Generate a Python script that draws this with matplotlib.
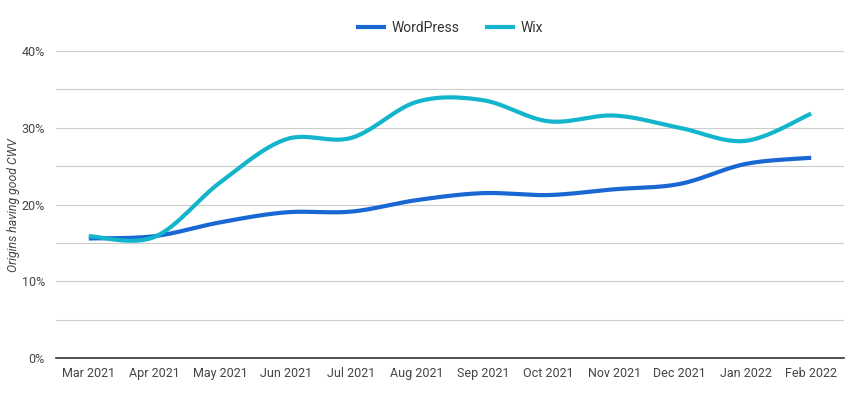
import numpy as np
import matplotlib
matplotlib.use("Agg")
import matplotlib.pyplot as plt
from matplotlib.ticker import FuncFormatter, MultipleLocator

plt.rcParams['font.family'] = ['Roboto', 'DejaVu Sans']

months = ['Mar 2021', 'Apr 2021', 'May 2021', 'Jun 2021', 'Jul 2021', 'Aug 2021',
          'Sep 2021', 'Oct 2021', 'Nov 2021', 'Dec 2021', 'Jan 2022', 'Feb 2022']
wordpress = [15.6, 15.9, 17.7, 19.0, 19.1, 20.6, 21.5, 21.25, 22.0, 22.7, 25.3, 26.1]
wix = [15.9, 15.8, 22.9, 28.5, 28.7, 33.4, 33.6, 30.85, 31.6, 30.0, 28.3, 31.85]

WP_COLOR = '#1967d2'
WIX_COLOR = '#12b5cb'


# cardinal spline through the points, only used for drawing the smooth curve
def smooth(x, y, steps=30, tension=0.5):
    x = np.asarray(x, float)
    y = np.asarray(y, float)
    px = np.concatenate([[x[0]], x, [x[-1]]])
    py = np.concatenate([[y[0]], y, [y[-1]]])
    xs, ys = [], []
    t = np.linspace(0, 1, steps)
    for i in range(1, len(px) - 2):
        mx0 = tension * (px[i + 1] - px[i - 1])
        mx1 = tension * (px[i + 2] - px[i])
        my0 = tension * (py[i + 1] - py[i - 1])
        my1 = tension * (py[i + 2] - py[i])
        h00 = 2 * t**3 - 3 * t**2 + 1
        h10 = t**3 - 2 * t**2 + t
        h01 = -2 * t**3 + 3 * t**2
        h11 = t**3 - t**2
        xs.append(h00 * px[i] + h10 * mx0 + h01 * px[i + 1] + h11 * mx1)
        ys.append(h00 * py[i] + h10 * my0 + h01 * py[i + 1] + h11 * my1)
    return np.concatenate(xs), np.concatenate(ys)


fig = plt.figure(figsize=(8.68, 4.07), dpi=100)
ax = fig.add_axes([0.0645, 0.1196, 0.9079, 0.7551])

idx = np.arange(len(months))
sx, sy = smooth(idx, wordpress)
ax.plot(sx, sy, color=WP_COLOR, lw=3, solid_capstyle='butt', label='WordPress', zorder=3)
sx, sy = smooth(idx, wix)
ax.plot(sx, sy, color=WIX_COLOR, lw=3, solid_capstyle='butt', label='Wix', zorder=4)

ax.set_xlim(-0.5, len(months) - 0.5)
ax.set_ylim(0, 40)
ax.set_xticks(idx)
ax.set_xticklabels(months)
ax.yaxis.set_major_locator(MultipleLocator(10))
ax.yaxis.set_minor_locator(MultipleLocator(5))
ax.yaxis.set_major_formatter(FuncFormatter(lambda v, p: '%d%%' % v))
ax.grid(True, which='both', axis='y', color='#cccccc', lw=0.8)
ax.set_axisbelow(True)
for s in ['top', 'right', 'left']:
    ax.spines[s].set_visible(False)
ax.spines['bottom'].set_color('#333333')
ax.spines['bottom'].set_linewidth(1.2)
ax.spines['bottom'].set_zorder(5)
ax.tick_params(axis='both', which='both', length=0, labelsize=9, colors='#444444')
ax.tick_params(axis='x', pad=6)
ax.tick_params(axis='y', pad=8)
ax.set_ylabel('Origins having good CWV', fontsize=8.8, style='italic', color='#444444')
ax.yaxis.set_label_coords(-0.046, 0.5)

fig.legend(loc='upper center', bbox_to_anchor=(0.518, 0.98), ncol=2, frameon=False,
           fontsize=10, handlelength=2.2, columnspacing=1.8, handletextpad=0.4,
           labelcolor='#333333')

fig.savefig('out.png', dpi=100)
